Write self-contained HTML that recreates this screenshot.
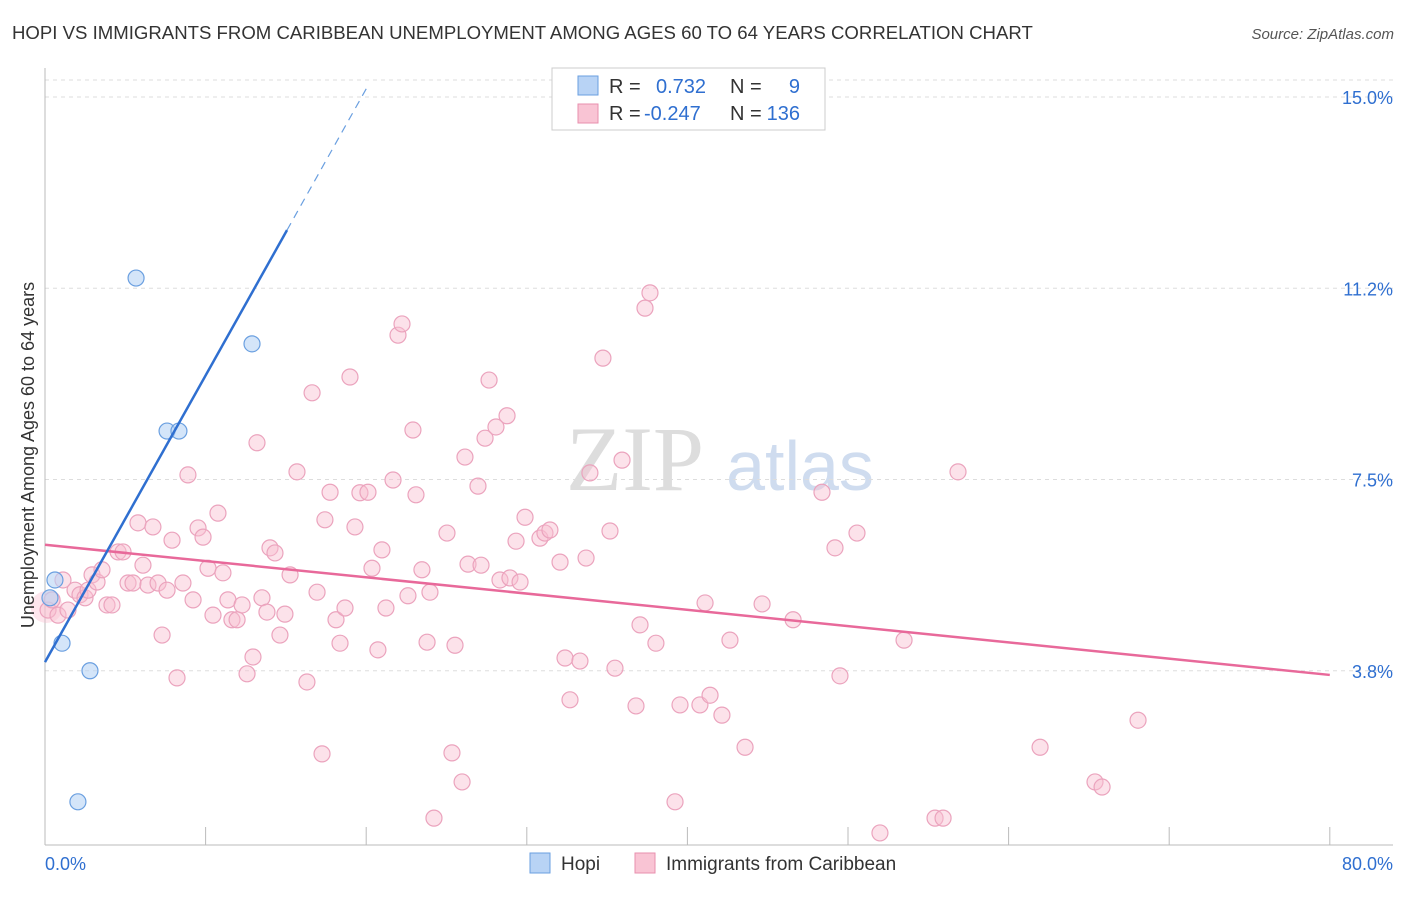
<!DOCTYPE html>
<html><head><meta charset="utf-8">
<style>
body{margin:0;background:#fff;font-family:"Liberation Sans",sans-serif;}
svg text{font-family:"Liberation Sans",sans-serif;}
</style></head>
<body>
<svg id="chart" width="1406" height="892" xmlns="http://www.w3.org/2000/svg">
<text x="12" y="39" font-size="18.6" fill="#333">HOPI VS IMMIGRANTS FROM CARIBBEAN UNEMPLOYMENT AMONG AGES 60 TO 64 YEARS CORRELATION CHART</text>
<text x="1394" y="39" font-size="15" fill="#555" text-anchor="end" font-style="italic">Source: ZipAtlas.com</text>
<g>
<text x="635" y="490" font-size="92" fill="#ddd" style="font-family:'Liberation Serif',serif" text-anchor="middle">ZIP</text>
<text x="800" y="490" font-size="70" fill="#cfdcef" text-anchor="middle">atlas</text>
</g>
<g id="grid"></g>
<g id="axes"></g>
<g id="marks"></g>
<text transform="translate(34,455) rotate(-90)" font-size="18" fill="#333" text-anchor="middle">Unemployment Among Ages 60 to 64 years</text>
<g>
<rect x="552" y="68" width="273" height="62" fill="#fff" stroke="#ccc"/>
<rect x="578" y="76" width="20" height="19" fill="#b8d3f5" stroke="#6a9fe0"/>
<rect x="578" y="104" width="20" height="19" fill="#f9c4d4" stroke="#e88fae"/>
<text x="609" y="93" font-size="20" fill="#333">R =</text>
<text x="656" y="93" font-size="20" fill="#2f6fd0">0.732</text>
<text x="730" y="93" font-size="20" fill="#333">N =</text>
<text x="800" y="93" font-size="20" fill="#2f6fd0" text-anchor="end">9</text>
<text x="609" y="120" font-size="20" fill="#333">R =</text>
<text x="644" y="120" font-size="20" fill="#2f6fd0">-0.247</text>
<text x="730" y="120" font-size="20" fill="#333">N =</text>
<text x="800" y="120" font-size="20" fill="#2f6fd0" text-anchor="end">136</text>
</g>
<g>
<rect x="530" y="853" width="20" height="20" fill="#b8d3f5" stroke="#6a9fe0"/>
<text x="561" y="870" font-size="19" fill="#333">Hopi</text>
<rect x="635" y="853" width="20" height="20" fill="#f9c4d4" stroke="#e88fae"/>
<text x="666" y="870" font-size="19" fill="#333">Immigrants from Caribbean</text>
</g>
</svg>
<script>
const xTicks=[0,10,20,30,40,50,60,70,80];
const yTicks=[3.75,7.5,11.25,15];
const yTickLabels=["3.8%","7.5%","11.2%","15.0%"];
const hopiX=[0.62,0.31,1.06,2.8,2.05,5.67,12.89,7.6,8.34];
const hopiY=[5.53,5.18,4.29,3.75,1.18,11.45,10.16,8.45,8.45];
const carX=[0.19,0.44,0.81,1.12,1.43,1.87,2.18,2.49,2.68,2.93,3.24,3.55,3.86,4.17,4.55,4.86,5.17,5.48,5.79,6.1,6.41,6.72,7.04,7.29,7.6,7.91,8.22,8.59,8.9,9.22,9.53,9.84,10.15,10.46,10.77,11.08,11.39,11.64,11.96,12.27,12.58,12.95,13.2,13.51,13.82,14.01,14.32,14.63,14.94,15.26,15.69,16.31,16.63,16.94,17.25,17.43,17.75,18.12,18.37,18.68,18.99,19.3,19.61,20.11,20.36,20.73,20.98,21.23,21.67,21.98,22.23,22.6,22.91,23.1,23.47,23.79,23.97,24.22,25.03,25.34,25.53,25.97,26.15,26.34,26.96,27.15,27.4,27.65,28.08,28.33,28.77,28.95,29.33,29.58,29.89,30.82,31.13,31.44,32.07,32.38,32.69,33.31,33.69,33.93,34.74,35.18,35.49,35.93,36.8,37.05,37.36,37.67,38.04,39.23,39.54,40.78,41.1,41.41,42.15,42.65,43.59,44.65,46.58,48.38,49.19,49.5,50.56,51.99,53.49,55.42,55.92,56.85,61.96,65.38,65.82,68.06];
const carY=[4.94,5.14,4.84,5.53,4.94,5.33,5.24,5.18,5.33,5.63,5.49,5.73,5.04,5.04,6.08,6.08,5.47,5.47,6.65,5.82,5.43,6.57,5.47,4.45,5.33,6.31,3.61,5.47,7.59,5.14,6.55,6.37,5.76,4.84,6.84,5.67,5.14,4.75,4.75,5.04,3.69,4.02,8.22,5.18,4.9,6.16,6.06,4.45,4.86,5.63,7.65,3.53,9.2,5.29,2.12,6.71,7.25,4.75,4.29,4.98,9.51,6.57,7.24,7.25,5.76,4.16,6.12,4.98,7.49,10.33,10.55,5.22,8.47,7.2,5.73,4.31,5.29,0.86,6.45,2.14,4.25,1.57,7.94,5.84,7.37,5.82,8.31,9.45,8.53,5.53,8.75,5.57,6.29,5.49,6.76,6.35,6.45,6.51,5.88,4.0,3.18,3.94,5.96,7.63,9.88,6.49,3.8,7.88,3.06,4.65,10.86,11.16,4.29,1.18,3.08,3.08,5.08,3.27,2.88,4.35,2.25,5.06,4.75,7.25,6.16,3.65,6.45,0.57,4.35,0.86,0.86,7.65,2.25,1.57,1.47,2.78];
const hopiLine=[3.92,0.562];
const carLine=[6.22,-0.0319];

const NS="http://www.w3.org/2000/svg";
const X=v=>45+v*16.06, Y=v=>862-v*51.0;
function mk(parent,tag,attrs){const e=document.createElementNS(NS,tag);for(const k in attrs)e.setAttribute(k,attrs[k]);document.getElementById(parent).appendChild(e);return e;}
yTicks.forEach((t,i)=>{
  const g=mk('grid','line',{x1:45,x2:1393,y1:Y(t),y2:Y(t),stroke:'#ddd','stroke-dasharray':'4,4'});
  
  
  const l=mk('axes','text',{x:1393,y:Y(t)+7,'font-size':18,fill:'#2f6fd0','text-anchor':'end'});
  l.textContent=yTickLabels[i];
  
  
});
const topLine=mk('grid','line',{x1:45,x2:1393,y1:80,y2:80,stroke:'#ddd','stroke-dasharray':'4,4'});


const ax=mk('axes','line',{x1:45,x2:1393,y1:845,y2:845,stroke:'#bbb'});


const ay=mk('axes','line',{x1:45,x2:45,y1:68,y2:845,stroke:'#bbb'});


xTicks.forEach(t=>{
  const k=mk('axes','line',{x1:X(t),x2:X(t),y1:827,y2:845,stroke:'#bbb'});
  
  
});
[[0,'0.0%','start',45],[80,'80.0%','end',1393]].forEach(d=>{
  const l=mk('axes','text',{x:d[3],y:870,'font-size':18,fill:'#2f6fd0','text-anchor':d[2]});
  l.textContent=d[1];
  
  
});
const big=mk('marks','circle',{cx:X(0.1),cy:Y(5.0),r:16,fill:'rgba(249,190,208,0.4)',stroke:'none'});


carX.forEach((x,i)=>{
  const c=mk('marks','circle',{cx:X(x),cy:Y(carY[i]),r:8,fill:'rgba(249,190,208,0.45)',stroke:'#eba3bd','stroke-width':1.2});
  
  
});
hopiX.forEach((x,i)=>{
  const c=mk('marks','circle',{cx:X(x),cy:Y(hopiY[i]),r:8,fill:'rgba(184,211,245,0.6)',stroke:'#6a9fe0','stroke-width':1.2});
  
  
});
const cl=mk('marks','line',{x1:X(0),y1:Y(carLine[0]),x2:X(80),y2:Y(carLine[0]+carLine[1]*80),stroke:'#e8699a','stroke-width':2.5});


const hl=mk('marks','line',{x1:X(0),y1:Y(hopiLine[0]),x2:X(15.07),y2:Y(hopiLine[0]+hopiLine[1]*15.07),stroke:'#2f6fd0','stroke-width':2.5});


const hd=mk('marks','line',{x1:X(15.07),y1:Y(hopiLine[0]+hopiLine[1]*15.07),x2:X(20.1),y2:Y(hopiLine[0]+hopiLine[1]*20.1),stroke:'#6a9fe0','stroke-width':1.2,'stroke-dasharray':'8,6'});


</script>
</body></html>
